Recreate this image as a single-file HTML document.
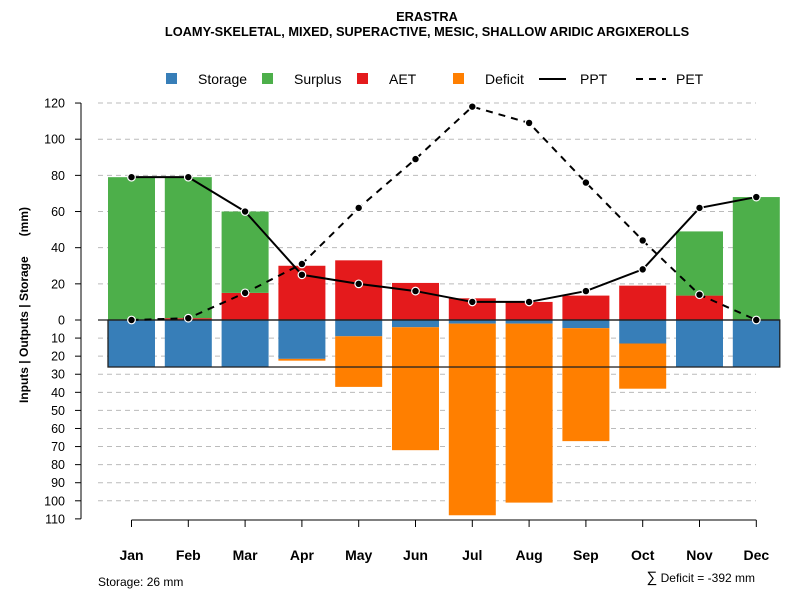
<!DOCTYPE html>
<html><head><meta charset="utf-8"><style>
body{margin:0;background:#fff;font-family:"Liberation Sans",sans-serif}
svg text{font-family:"Liberation Sans",sans-serif}
</style></head><body>
<svg id="c" width="800" height="600" xmlns="http://www.w3.org/2000/svg">
<text x="427" y="21" text-anchor="middle" font-size="12.8" font-weight="bold">ERASTRA</text>
<text x="427" y="36" text-anchor="middle" font-size="12.8" font-weight="bold">LOAMY-SKELETAL, MIXED, SUPERACTIVE, MESIC, SHALLOW ARIDIC ARGIXEROLLS</text>
<g id="grid"></g><g id="bars"></g><g id="lines"></g><g id="axes"></g>
<g font-size="14">
<rect x="166" y="73" width="11" height="11" fill="#377EB8"/>
<text x="198" y="84">Storage</text>
<rect x="262" y="73" width="11" height="11" fill="#4DAF4A"/>
<text x="294" y="84">Surplus</text>
<rect x="357" y="73" width="11" height="11" fill="#E41A1C"/>
<text x="389" y="84">AET</text>
<rect x="453" y="73" width="11" height="11" fill="#FF7F00"/>
<text x="485" y="84">Deficit</text>
<line x1="539" y1="79" x2="566" y2="79" stroke="#000" stroke-width="2"/>
<text x="580" y="84">PPT</text>
<line x1="636" y1="79" x2="666" y2="79" stroke="#000" stroke-width="2" stroke-dasharray="7,6"/>
<text x="676" y="84">PET</text>
</g>
<text x="28" y="305" transform="rotate(-90 28 305)" text-anchor="middle" font-size="12" font-weight="bold" xml:space="preserve" style="white-space:pre">Inputs | Outputs | Storage      (mm)</text>
<text x="98" y="586" font-size="12">Storage: 26 mm</text>
<text x="755" y="582" text-anchor="end" font-size="12"><tspan font-size="15">∑</tspan> Deficit = -392 mm</text>
</svg>
<script>
const months=["Jan","Feb","Mar","Apr","May","Jun","Jul","Aug","Sep","Oct","Nov","Dec"];
const ppt=[79,79,60,25,20,16,10,10,16,28,62,68];
const pet=[0,1,15,31,62,89,118,109,76,44,14,0];
const aet=[0,1,15,30,33,20.5,12,10,13.5,19,13.5,0];
const surplus=[79,78,45,0,0,0,0,0,0,0,35.5,68];
const storage=[26,26,26,21.5,9,4,2,2,4.5,13,26,26];
const deficit=[0,0,0,1,28,68,106,99,62.5,25,0,0];
const posTicks=[0,20,40,60,80,100,120];
const negTicks=[10,20,30,40,50,60,70,80,90,100,110];
const NS="http://www.w3.org/2000/svg";
const y=v=>320-v*1.808;
const x=i=>131.5+i*56.8;
const bw=47;
function mk(p,t,a){const e=document.createElementNS(NS,t);for(const k in a)e.setAttribute(k,a[k]);document.getElementById(p).appendChild(e);return e;}
[...posTicks.slice(1),...negTicks.slice(0,-1).map(v=>-v)].forEach(v=>{
 const g=mk("grid","line",{x1:98,x2:756,y1:y(v),y2:y(v),stroke:"#bbb","stroke-dasharray":"5,4"});
 
 
});
months.forEach((m,i)=>{
 const x0=x(i)-bw/2;
 const r1=mk("bars","rect",{x:x0,y:y(aet[i]),width:bw,height:aet[i]*1.808,fill:"#E41A1C"});
 
 
 const r2=mk("bars","rect",{x:x0,y:y(aet[i]+surplus[i]),width:bw,height:surplus[i]*1.808,fill:"#4DAF4A"});
 
 
 const r3=mk("bars","rect",{x:x0,y:320,width:bw,height:storage[i]*1.808,fill:"#377EB8"});
 
 
 const r4=mk("bars","rect",{x:x0,y:y(-storage[i]),width:bw,height:deficit[i]*1.808,fill:"#FF7F00"});
 
 
});
const box=mk("bars","rect",{x:x(0)-bw/2,y:320,width:x(11)+bw/2-(x(0)-bw/2),height:26*1.808,fill:"none",stroke:"#222","stroke-width":1.3});


const zl=mk("bars","line",{x1:98,x2:x(11)+bw/2,y1:320,y2:320,stroke:"#222","stroke-width":1.3});


function series(arr,name,dash){
 const p=mk("lines","polyline",{points:arr.map((v,i)=>x(i)+","+y(v)).join(" "),fill:"none",stroke:"#000","stroke-width":2,"stroke-dasharray":dash});
 
 
 arr.forEach((v,i)=>{
  const c=mk("lines","circle",{cx:x(i),cy:y(v),r:3.8,fill:"#000",stroke:"#fff","stroke-width":1.2});
  
  
 });
}
series(ppt,"ppt","none");
series(pet,"pet","7,6");
const ya=mk("axes","line",{x1:81,x2:81,y1:y(120),y2:y(-110),stroke:"#000"});


[...posTicks,...negTicks.map(v=>-v)].forEach(v=>{
 mk("axes","line",{x1:75,x2:81,y1:y(v),y2:y(v),stroke:"#000"});
 const t=mk("axes","text",{x:65,y:y(v)+4.5,"text-anchor":"end","font-size":12.5});
 t.textContent=Math.abs(v);
 
 
});
const xa=mk("axes","line",{x1:x(0),x2:x(11),y1:520,y2:520,stroke:"#000"});


months.forEach((m,i)=>{
 mk("axes","line",{x1:x(i),x2:x(i),y1:520,y2:527,stroke:"#000"});
 const t=mk("axes","text",{x:x(i),y:560,"text-anchor":"middle","font-size":14,"font-weight":"bold"});
 t.textContent=m;
 
 
});
</script>
</body></html>
